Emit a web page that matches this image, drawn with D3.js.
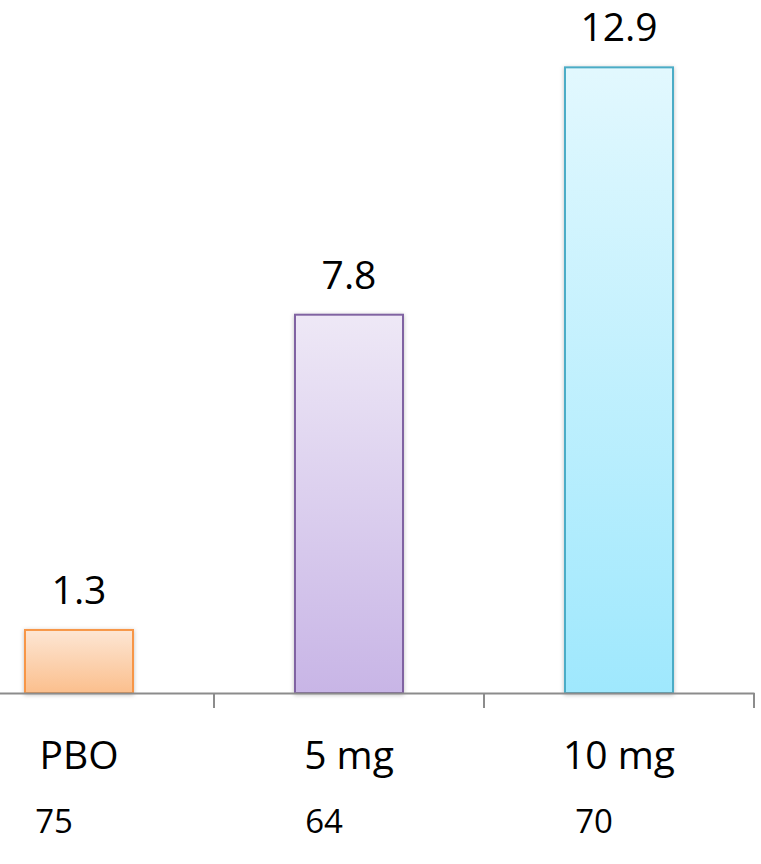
<!DOCTYPE html>
<html>
<head>
<meta charset="utf-8">
<script src="https://cdn.jsdelivr.net/npm/d3@7"></script>
<style>
  html, body { margin: 0; padding: 0; background: #ffffff; }
  svg { display: block; }
</style>
</head>
<body>
<script>
const categories = ["PBO", "5 mg", "10 mg"];
const values = [1.3, 7.8, 12.9];
const counts = ["75", "64", "70"];
const strokeColors = ["#F79646", "#8064A2", "#4BACC6"];
const gradTop = ["#FDE6D4", "#EEE8F6", "#E2F8FE"];
const gradBottom = ["#FBBF8D", "#C8B5E6", "#9FE8FD"];

const W = 761, H = 864;
const svg = d3.select("body").append("svg").attr("width", W).attr("height", H);

const defs = svg.append("defs");
categories.forEach((c, i) => {
  const g = defs.append("linearGradient").attr("id", "g" + i)
    .attr("x1", 0).attr("y1", 0).attr("x2", 0).attr("y2", 1);
  g.append("stop").attr("offset", "0%").attr("stop-color", gradTop[i]);
  g.append("stop").attr("offset", "100%").attr("stop-color", gradBottom[i]);
});
const f = defs.append("filter").attr("id", "shadow").attr("x", "-20%").attr("y", "-20%").attr("width", "140%").attr("height", "140%");
f.append("feDropShadow").attr("dx", 0).attr("dy", 1).attr("stdDeviation", 2).attr("flood-color", "#000").attr("flood-opacity", 0.25);

const x = d3.scaleBand().domain(categories).range([-56, 754]).padding(0);
const y = d3.scaleLinear().domain([0, 14]).range([693, 14]);
const bw = x.bandwidth();

svg.append("g").selectAll("rect").data(categories).join("rect")
  .attr("x", d => x(d) + bw * 0.3)
  .attr("width", bw * 0.4)
  .attr("y", (d, i) => y(values[i]))
  .attr("height", (d, i) => y(0) - y(values[i]))
  .attr("fill", (d, i) => `url(#g${i})`)
  .attr("stroke", (d, i) => strokeColors[i])
  .attr("stroke-width", 2)
  .attr("filter", "url(#shadow)");

// axis
const axis = d3.axisBottom(x).tickSize(15).tickSizeOuter(0).tickFormat("");
const ag = svg.append("g").attr("transform", `translate(0,${y(0)})`).call(axis);
ag.select(".domain").attr("stroke", "#8C8C8C").attr("stroke-width", 2);
ag.selectAll(".tick").attr("transform", d => `translate(${x(d) + bw},0)`);
ag.selectAll(".tick line").attr("stroke", "#8C8C8C").attr("stroke-width", 2);

svg.append("g").selectAll("text").data(categories).join("text")
  .attr("x", d => x(d) + bw / 2)
  .attr("y", (d, i) => y(values[i]) - 26)
  .attr("text-anchor", "middle")
  .attr("font-family", "'Open Sans', sans-serif")
  .attr("font-size", 39)
  .attr("fill", "#000")
  .text((d, i) => values[i].toFixed(1));

svg.append("g").selectAll("text").data(categories).join("text")
  .attr("x", d => x(d) + bw / 2)
  .attr("y", 769)
  .attr("text-anchor", "middle")
  .attr("font-family", "'Open Sans', sans-serif")
  .attr("font-size", 39)
  .attr("fill", "#000")
  .text(d => d);

svg.append("g").selectAll("text").data(categories).join("text")
  .attr("x", d => x(d) + bw / 2 - 25)
  .attr("y", 833)
  .attr("text-anchor", "middle")
  .attr("font-family", "'Open Sans', sans-serif")
  .attr("font-size", 33)
  .attr("fill", "#000")
  .text((d, i) => counts[i]);
</script>
</body>
</html>
